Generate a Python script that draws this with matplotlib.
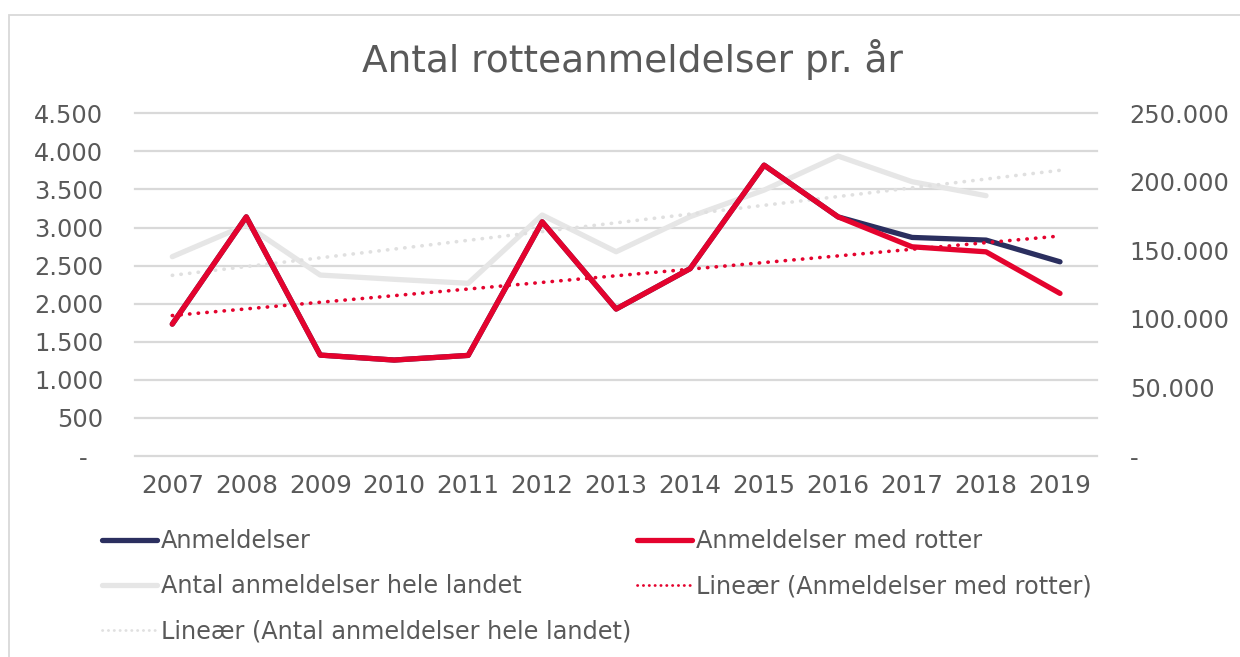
import numpy as np
import matplotlib
matplotlib.use("Agg")
import matplotlib.pyplot as plt
from matplotlib.patches import Rectangle
from matplotlib.lines import Line2D

years = [2007, 2008, 2009, 2010, 2011, 2012, 2013, 2014, 2015, 2016, 2017, 2018, 2019]
anmeldelser = [1732, 3140, 1325, 1260, 1321, 3075, 1930, 2460, 3819, 3140, 2870, 2835, 2550]
med_rotter = [1732, 3140, 1325, 1260, 1321, 3075, 1930, 2460, 3819, 3140, 2747, 2681, 2135]
hele_landet = [145400, 168500, 132000, 128900, 126000, 175800, 149000, 174600, 194000, 218800, 200100, 189900]
left_ticks = [0, 500, 1000, 1500, 2000, 2500, 3000, 3500, 4000, 4500]
left_labels = ["-  ", "500", "1.000", "1.500", "2.000", "2.500", "3.000", "3.500", "4.000", "4.500"]
right_ticks = [0, 50000, 100000, 150000, 200000, 250000]
right_labels = ["-", "50.000", "100.000", "150.000", "200.000", "250.000"]

NAVY = "#2B2F5F"
RED = "#E4032E"
LGRAY = "#E6E6E6"
DGRAY = "#E0E0E0"
TXT = "#595959"
GRID = "#D9D9D9"

W, H = 1240, 657
fig = plt.figure(figsize=(W / 100, H / 100), dpi=100)
fig.patch.set_facecolor("white")

# outer chart border
fig.patches.append(Rectangle((8.5 / W, -0.1), 1.2, 1 - 14.5 / H + 0.1, transform=fig.transFigure,
                             fill=False, edgecolor=GRID, linewidth=1.3))

l, r, t, b = 135.3, 1097, 113.3, 456
ax2 = fig.add_axes([l / W, 1 - b / H, (r - l) / W, (b - t) / H])
ax = fig.add_axes([l / W, 1 - b / H, (r - l) / W, (b - t) / H], sharex=ax2)
ax.set_zorder(2)
ax2.set_zorder(1)
ax.patch.set_visible(False)

x = np.arange(len(years))
xh = np.arange(len(hele_landet))

# secondary axis: whole country
ax2.plot(xh, hele_landet, color=LGRAY, lw=3.8, solid_capstyle="round", solid_joinstyle="round", zorder=3)
ph = np.polyfit(xh, hele_landet, 1)
ax2.plot(x, np.polyval(ph, x), color=DGRAY, lw=2.6, linestyle=(0, (0.1, 2.3)),
         dash_capstyle="round", zorder=4)
ax2.set_ylim(0, 250000)
ax2.yaxis.remove_overlapping_locs = False
ax2.set_yticks(right_ticks)
ax2.set_yticklabels(right_labels)
ax2.set_yticks(np.array(left_ticks) * 250000 / 4500, minor=True)
ax2.grid(which="minor", axis="y", color=GRID, lw=1.6, clip_on=False)
ax2.grid(which="major", visible=False)
ax2.yaxis.tick_right()
ax2.tick_params(axis="y", which="both", length=0, labelsize=17.3, labelcolor=TXT, pad=23.5)
ax2.tick_params(axis="x", length=0, labelsize=17.8, labelcolor=TXT, pad=13)

# primary axis
ax.plot(x, anmeldelser, color=NAVY, lw=3.8, solid_capstyle="round", solid_joinstyle="round", zorder=3)
ax.plot(x, med_rotter, color=RED, lw=3.8, solid_capstyle="round", solid_joinstyle="round", zorder=4)
pr = np.polyfit(x, med_rotter, 1)
ax.plot(x, np.polyval(pr, x), color=RED, lw=2.6, linestyle=(0, (0.1, 2.3)),
        dash_capstyle="round", zorder=5)
ax.set_ylim(0, 4500)
ax.set_yticks(left_ticks)
ax.set_yticklabels(left_labels)
ax.tick_params(axis="y", length=0, labelsize=17.3, labelcolor=TXT, pad=23)
ax.tick_params(axis="x", length=0, labelbottom=False)
ax2.set_xlim(-0.5, len(years) - 0.5)
ax2.set_xticks(x)
ax2.set_xticklabels([str(y) for y in years])
for a in (ax, ax2):
    for s in a.spines.values():
        s.set_visible(False)

fig.text(632 / W, 1 - 60 / H, "Antal rotteanmeldelser pr. år", ha="center", va="center",
         fontsize=27, color=TXT)

# legend
h_anm = Line2D([], [], color=NAVY, lw=3.8, solid_capstyle="round")
h_rot = Line2D([], [], color=RED, lw=3.8, solid_capstyle="round")
h_hel = Line2D([], [], color=LGRAY, lw=3.8, solid_capstyle="round")
h_lrot = Line2D([], [], color=RED, lw=2.0, linestyle=(0, (0.1, 2.0)), dash_capstyle="round")
h_lhel = Line2D([], [], color=DGRAY, lw=2.0, linestyle=(0, (0.1, 2.0)), dash_capstyle="round")
common = dict(frameon=False, fontsize=17.3, labelcolor=TXT, handlelength=2.3, handletextpad=0.15,
              labelspacing=0.88, borderpad=0, borderaxespad=0, loc="upper left")
leg1 = fig.legend([h_anm, h_hel, h_lhel],
                  ["Anmeldelser", "Antal anmeldelser hele landet", "Lineær (Antal anmeldelser hele landet)"],
                  bbox_to_anchor=(102 / W, 1 - 529 / H), **common)
leg2 = fig.legend([h_rot, h_lrot],
                  ["Anmeldelser med rotter", "Lineær (Anmeldelser med rotter)"],
                  bbox_to_anchor=(637 / W, 1 - 529 / H), **common)

fig.savefig("out.png", dpi=100, facecolor="white")
